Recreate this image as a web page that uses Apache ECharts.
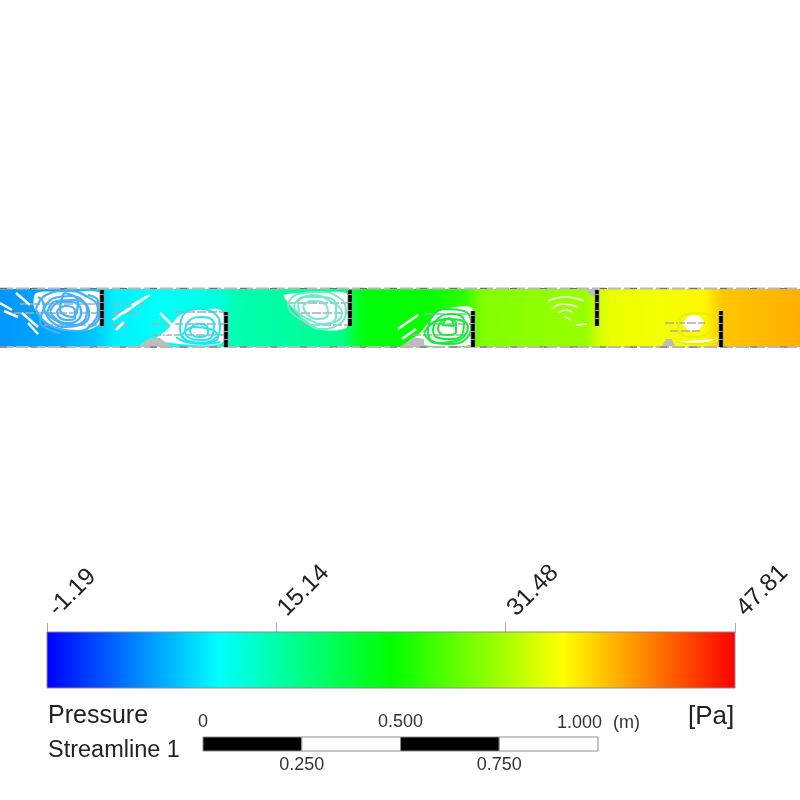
<!DOCTYPE html>
<html>
<head>
<meta charset="utf-8">
<style>html,body{margin:0;padding:0;background:#fff}#c{width:800px;height:800px}</style>
<script src="https://cdn.jsdelivr.net/npm/echarts@6/dist/echarts.min.js"></script>
</head>
<body>
<div id="c"></div>
<script>
// Pressure legend
const pressureMin = -1.19;
const pressureMax = 47.81;
const pressureTicks = [-1.19, 15.14, 31.48, 47.81];
const rampColors = ['#0000ff', '#00ffff', '#00ff00', '#ffff00', '#ff0000'];

// Length scale, metres
const scaleSegments = [[0, 0.25], [0.25, 0.5], [0.5, 0.75], [0.75, 1]];
const scaleTopTicks = [0, 0.5];
const scaleBottomTicks = [0.25, 0.75];

// Duct flow passage and [station, pressure] samples along it
const ductOutline = [[[0,0],[0,58],[800,58],[800,0]]];
const ductPressures = [
  [0,6.0],[60,7.0],[95,8.4],[115,10.4],[160,11.2],[222,12.8],[234,14.8],[300,15.8],[342,16.8],
  [354,20.5],[364,22.8],[430,23.6],[465,25.5],[482,29.6],[585,30.6],[600,33.5],[612,34.6],
  [660,35.0],[705,36.0],[722,38.3],[800,39.4]
];

// Recirculation pockets left unfilled by the contour
const deadZones = [
  [[36,54],[70,55],[100,54],[100,24],[88,17],[62,17],[44,26],[34,40]],
  [[156,8],[168,18],[180,32],[196,37],[222,36],[222,4],[180,3]],
  [[284,52],[315,54],[347,53],[347,20],[322,17],[304,28],[290,42]],
  [[408,4],[420,14],[432,29],[441,37],[472,39],[472,3]],
  [[683,24],[689,31],[699,31],[704,24],[698,17],[688,17]]
];
const greyWedges = [
  [[137,0],[172,0],[160,9],[150,9]],
  [[400,0],[424,0],[424,8],[414,10]],
  [[662,1],[675,1],[672,8],[666,8]],
  [[586,58],[597,58],[597,50],[590,52]]
];

// Streamline loops per recirculation
const loopsBlue = [
  [[36,38],[46,52],[66,56],[86,51],[98,38],[93,24],[78,16],[60,18],[44,26],[36,38]],
  [[44,38],[54,49],[70,51],[85,44],[89,32],[80,22],[66,20],[52,25],[44,38]],
  [[47,34],[56,46],[74,47],[87,38],[84,26],[70,22],[55,27],[47,34]],
  [[50,36],[60,45],[72,45],[81,36],[78,27],[68,24],[57,27],[50,36]],
  [[57,36],[66,41],[75,36],[75,29],[66,27],[59,30],[57,36]],
  [[64,54],[78,46],[72,30],[60,38],[64,54]],
  [[38,50],[44,42],[40,26],[48,18],[60,14]],
  [[88,52],[98,46],[99,30],[90,20]]
];
const loopsCyan = [
  [[180,18],[184,33],[198,38],[214,34],[220,20],[214,8],[198,4],[184,8],[180,18]],
  [[185,16],[190,27],[202,30],[214,23],[212,11],[200,7],[188,10],[185,16]],
  [[182,12],[194,20],[210,18],[218,10],[204,4],[188,6],[182,12]],
  [[190,17],[197,23],[207,21],[208,14],[199,10],[192,12],[190,17]],
  [[176,10],[186,5],[205,3],[220,5]]
];
const loopsTeal = [
  [[288,44],[298,53],[318,55],[338,50],[346,36],[338,22],[320,18],[304,26],[290,36],[288,44]],
  [[294,42],[304,50],[320,50],[336,42],[336,30],[322,23],[308,28],[296,36],[294,42]],
  [[298,46],[312,52],[330,46],[342,34],[332,24],[314,22],[300,32],[298,46]],
  [[303,41],[312,46],[326,42],[328,33],[318,28],[308,32],[303,41]]
];
const loopsGreen = [
  [[428,16],[432,30],[446,38],[464,36],[471,24],[466,8],[448,3],[432,6],[428,16]],
  [[433,18],[440,30],[452,33],[464,26],[462,12],[448,8],[436,10],[433,18]],
  [[424,14],[436,26],[450,28],[468,20],[456,6],[436,4],[424,14]],
  [[438,20],[446,28],[456,24],[456,15],[446,12],[439,15],[438,20]],
  [[442,22],[449,29],[454,21],[442,22]]
];
const loopsPaleGreen = [
  [[548,46],[565,50],[584,46]],
  [[552,38],[562,43],[578,40]],
  [[558,34],[566,37],[573,34]],
  [[564,31],[572,26]],
  [[576,22],[587,23]]
];
const loopsYellow = [
  [[678,20],[684,32],[700,34],[712,26],[708,14],[692,10],[680,14],[678,20]],
  [[676,5],[696,3],[714,6],[719,14]]
];

// White gaps where stream tubes thin out
const thinGaps = [
  [[0,44],[12,37]], [[16,54],[30,42]], [[4,36],[18,30]], [[22,34],[38,20]], [[28,24],[38,13]],
  [[113,27],[128,38]], [[124,34],[146,50]], [[116,17],[124,25]], [[132,42],[150,52]],
  [[160,34],[178,16]], [[165,12],[176,26]],
  [[398,18],[418,32]], [[402,8],[416,18]],
  [[676,4],[718,7]]
];

// Mesh fragments left visible in the pockets
const meshLines = [
  [[20,43],[100,43]], [[14,34],[100,34]], [[44,22],[100,22]],
  [[113,43],[147,43]], [[112,34],[138,34]], [[112,22],[128,22]],
  [[175,35],[225,35]], [[152,23],[225,23]], [[152,12],[225,12]],
  [[286,44],[348,44]], [[290,34],[348,34]], [[300,22],[348,22]],
  [[425,33],[472,33]], [[425,23],[472,23]], [[412,12],[472,12]],
  [[665,24],[705,24]], [[670,16],[700,16]]
];

const wallTop = [[0,58.5],[800,58.5]];
const wallBottom = [[0,0],[800,0]];
const baffles = [
  [[102,21],[102,57]], [[226,0],[226,35]], [[350,21],[350,57]],
  [[473,0],[473,36]], [[597,21],[597,57]], [[721,0],[721,36]]
];

// Colour for a pressure value on the legend's ramp
function colorOf(p) {
  const t = Math.max(0, Math.min(1, (p - pressureMin) / (pressureMax - pressureMin))) * (rampColors.length - 1);
  const i = Math.min(rampColors.length - 2, Math.floor(t));
  const f = t - i;
  const rgb = s => [1, 3, 5].map(k => parseInt(s.substr(k, 2), 16));
  const a = rgb(rampColors[i]), b = rgb(rampColors[i + 1]);
  return 'rgb(' + a.map((v, k) => Math.round(v + (b[k] - v) * f)).join(',') + ')';
}

// Filled polygons on the duct axes
function polygonSeries(outlines, fillFor, smooth) {
  return {
    type: 'custom', xAxisIndex: 0, yAxisIndex: 0, silent: true, animation: false,
    data: outlines.map((_, i) => [i]),
    renderItem(params, api) {
      const idx = api.value(0);
      const pts = outlines[idx].map(q => api.coord(q));
      return { type: 'polygon', shape: { points: pts, smooth: smooth || 0 }, style: { fill: fillFor(api), stroke: null } };
    }
  };
}

function ductFill(api) {
  const x0 = api.coord([ductPressures[0][0], 0])[0];
  const x1 = api.coord([ductPressures[ductPressures.length - 1][0], 0])[0];
  return new echarts.graphic.LinearGradient(x0, 0, x1, 0, ductPressures.map(s => ({
    offset: (api.coord([s[0], 0])[0] - x0) / (x1 - x0),
    color: colorOf(s[1])
  })), true);
}

function lineGroup(list, color, width, dash) {
  return list.map(pts => ({
    type: 'line', xAxisIndex: 0, yAxisIndex: 0, data: pts, smooth: false, showSymbol: false,
    symbol: 'none', silent: true, animation: false, clip: false,
    lineStyle: { color, width, type: dash || 'solid' }
  }));
}
function loopGroup(list, color, width) {
  return lineGroup(list, color, width).map(s => Object.assign(s, { smooth: 0.5 }));
}

const chart = echarts.init(document.getElementById('c'), null, { renderer: 'canvas' });
const legendFont = 'Liberation Sans, Arial, sans-serif';

chart.setOption({
  backgroundColor: '#ffffff',
  animation: false,
  grid: [
    { left: 0, top: 287, width: 800, height: 60, outerBoundsMode: 'none' },
    { left: 47, top: 632, width: 688, height: 56, outerBoundsMode: 'none' },
    { left: 203, top: 737, width: 395, height: 14, outerBoundsMode: 'none' }
  ],
  xAxis: [
    { gridIndex: 0, type: 'value', min: 0, max: 800, show: false },
    {
      gridIndex: 1, type: 'value', min: pressureMin, max: pressureMax, position: 'top',
      splitLine: { show: false },
      axisLine: { show: true, onZero: false, lineStyle: { color: '#8a8a8a', width: 1 } },
      axisTick: { show: true, length: 9, customValues: pressureTicks, lineStyle: { color: '#a8a8a8', width: 1 } },
      axisLabel: {
        show: true, customValues: pressureTicks, rotate: -45, margin: 14,
        padding: [0, 0, 0, 8],
        fontSize: 24.5, fontFamily: legendFont, color: '#222',
        formatter: v => v.toFixed(2)
      }
    },
    {
      gridIndex: 2, type: 'value', min: 0, max: 1, position: 'top',
      splitLine: { show: false },
      axisLine: { show: false, onZero: false }, axisTick: { show: false },
      axisLabel: {
        show: true, customValues: scaleTopTicks, margin: 6, fontSize: 18,
        fontFamily: legendFont, color: '#333',
        formatter: v => v === 0 ? '0' : v.toFixed(3)
      }
    },
    {
      gridIndex: 2, type: 'value', min: 0, max: 1, position: 'bottom',
      splitLine: { show: false },
      axisLine: { show: false, onZero: false }, axisTick: { show: false },
      axisLabel: {
        show: true, customValues: scaleBottomTicks, margin: 5, fontSize: 18,
        fontFamily: legendFont, color: '#333',
        formatter: v => v.toFixed(3)
      }
    }
  ],
  yAxis: [
    { gridIndex: 0, type: 'value', min: 0, max: 60, show: false },
    { gridIndex: 1, type: 'value', min: 0, max: 1, show: false },
    { gridIndex: 2, type: 'value', min: 0, max: 1, show: false }
  ],
  series: [
    polygonSeries(ductOutline, ductFill),
    polygonSeries(deadZones, () => '#ffffff', 0.25),
    polygonSeries(greyWedges, () => '#bdbdbd'),
    ...lineGroup(meshLines, '#ababab', 1.5, [9, 2]),
    ...lineGroup(thinGaps, '#ffffff', 2.5),
    ...loopGroup(loopsBlue, '#45b0fb', 2.2),
    ...loopGroup(loopsCyan, '#24e4f2', 2),
    ...loopGroup(loopsTeal, '#70ebcb', 2),
    ...loopGroup(loopsGreen, '#12ee35', 2),
    ...loopGroup(loopsPaleGreen, '#ffffff', 1.4),
    ...loopGroup(loopsYellow, '#e6f000', 2.2),
    ...lineGroup([wallTop, wallBottom], '#b8b8b8', 2, [13, 3]),
    ...lineGroup([wallTop, wallBottom], '#6f6f6f', 1, [7, 23]),
    ...lineGroup(baffles, '#9a9a9a', 5),
    ...lineGroup(baffles, '#000000', 3.5, [7, 1]),
    {
      // Legend ramp
      type: 'custom', xAxisIndex: 1, yAxisIndex: 1, silent: true, animation: false,
      data: [[pressureMin, pressureMax]],
      renderItem(params, api) {
        const a = api.coord([api.value(0), 1]);
        const b = api.coord([api.value(1), 0]);
        return {
          type: 'rect',
          shape: { x: a[0], y: a[1], width: b[0] - a[0], height: b[1] - a[1] },
          style: {
            fill: new echarts.graphic.LinearGradient(0, 0, 1, 0,
              rampColors.map((c, i) => ({ offset: i / (rampColors.length - 1), color: c }))),
            stroke: '#8a8a8a', lineWidth: 1
          }
        };
      }
    },
    {
      // Length scale blocks
      type: 'custom', xAxisIndex: 2, yAxisIndex: 2, silent: true, animation: false,
      data: scaleSegments,
      renderItem(params, api) {
        const a = api.coord([api.value(0), 1]);
        const b = api.coord([api.value(1), 0]);
        return {
          type: 'rect',
          shape: { x: a[0], y: a[1], width: b[0] - a[0], height: b[1] - a[1] },
          style: { fill: params.dataIndex % 2 === 0 ? '#000000' : '#ffffff', stroke: '#8c8c8c', lineWidth: 1 }
        };
      }
    }
  ],
  graphic: [
    { type: 'text', left: 48, top: 704, style: { text: 'Pressure', font: '25px ' + legendFont, fill: '#222' } },
    { type: 'text', left: 48, top: 739, style: { text: 'Streamline 1', font: '23.5px ' + legendFont, fill: '#222' } },
    { type: 'text', left: 688, top: 704, style: { text: '[Pa]', font: '26px ' + legendFont, fill: '#222' } },
    { type: 'text', left: 557, top: 714, style: { text: '1.000', font: '18px ' + legendFont, fill: '#333' } },
    { type: 'text', left: 613, top: 714, style: { text: '(m)', font: '18px ' + legendFont, fill: '#333' } }
  ]
});
</script>
</body>
</html>
